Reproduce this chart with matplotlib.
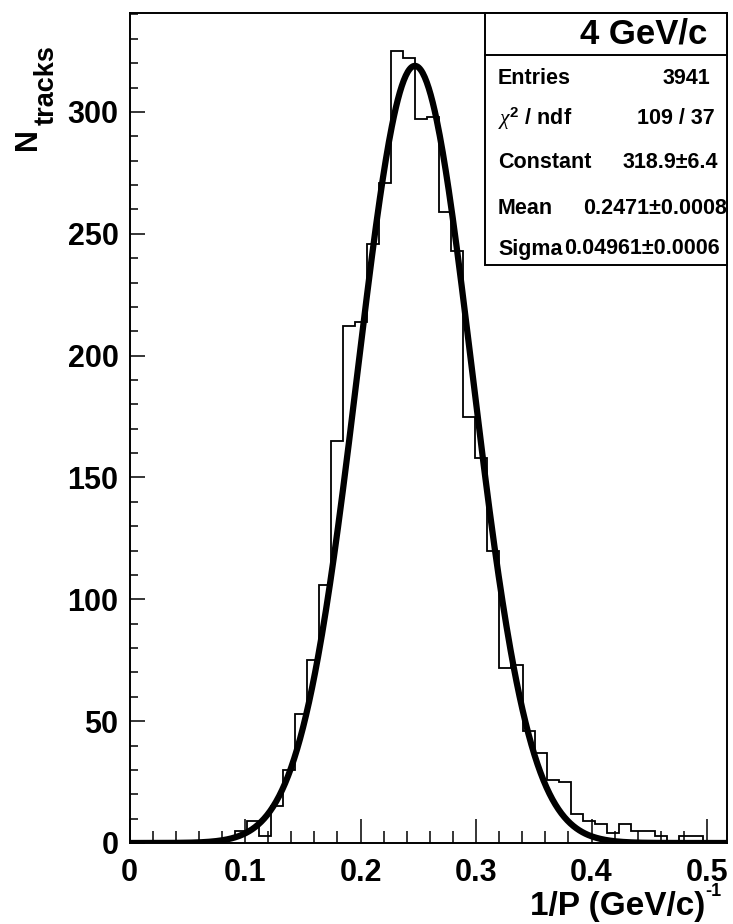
import numpy as np
import matplotlib
matplotlib.use("Agg")
import matplotlib.pyplot as plt
from matplotlib.patches import Rectangle
from matplotlib.lines import Line2D

plt.rcParams['font.family'] = ['Liberation Sans', 'DejaVu Sans']
plt.rcParams['mathtext.fontset'] = 'custom'
plt.rcParams['mathtext.rm'] = 'Liberation Sans:bold'
plt.rcParams['mathtext.bf'] = 'Liberation Sans:bold'
plt.rcParams['mathtext.it'] = 'Liberation Serif:italic'

# ---- data ----
bin_start = -0.0026
bin_width = 0.0104
counts = [0, 0, 0, 0, 0, 0, 0, 1, 2, 5,
          9, 3, 15, 30, 53, 75, 106, 165, 212, 214,
          246, 271, 325, 322, 297, 298, 259, 243, 175, 158,
          120, 72, 73, 46, 37, 26, 25, 12, 9, 8,
          4, 8, 5, 5, 3, 1, 3, 3, 0, 0]
fit_constant = 318.9
fit_mean = 0.2471
fit_sigma = 0.04961
x_ticks = [0, 0.1, 0.2, 0.3, 0.4, 0.5]
x_ticklabels = ['0', '0.1', '0.2', '0.3', '0.4', '0.5']
y_ticks = [0, 50, 100, 150, 200, 250, 300]
stats_title = '4 GeV/c'
stats_labels = ['Entries', r'$\chi^{2}$ / ndf', 'Constant', 'Mean', 'Sigma']
stats_values = ['3941', '109 / 37', '318.9\u00b16.4', '0.2471\u00b10.0008', '0.04961\u00b10.0006']

W, H = 733, 924
def fx(px):
    return px / W
def fy(py):
    return 1 - py / H

fig = plt.figure(figsize=(W / 100, H / 100), dpi=100)
ax_l, ax_r, ax_t, ax_b = 129.5, 727, 13, 843
ax = fig.add_axes([fx(ax_l), fy(ax_b), (ax_r - ax_l) / W, (ax_b - ax_t) / H])

edges = bin_start + bin_width * np.arange(len(counts) + 1)
ax.stairs(counts, edges, color='black', lw=1.3, zorder=2)

xmax = 0.5173
xf = np.linspace(0, xmax, 600)
yf = fit_constant * np.exp(-0.5 * ((xf - fit_mean) / fit_sigma) ** 2)
ax.plot(xf, yf, color='black', lw=4.5, zorder=3, solid_capstyle='butt')

ax.set_xlim(0, xmax)
ax.set_ylim(0, 340.6)
ax.set_xticks(x_ticks)
ax.set_xticklabels(x_ticklabels)
ax.set_yticks(y_ticks)
ax.set_xticks(np.arange(0, 0.52, 0.02), minor=True)
ax.set_yticks(np.arange(0, 341, 10), minor=True)
ax.tick_params(axis='x', which='major', direction='in', length=17, width=1.1,
               labelsize=22, pad=11)
ax.tick_params(axis='x', which='minor', direction='in', length=8.6, width=1.1)
ax.tick_params(axis='y', which='major', direction='in', length=10.8, width=1.1,
               labelsize=22, pad=8)
ax.tick_params(axis='y', which='minor', direction='in', length=5.4, width=1.1)
for lab in ax.get_xticklabels() + ax.get_yticklabels():
    lab.set_fontweight('bold')
for s in ax.spines.values():
    s.set_linewidth(1.4)

fig.text(fx(705), fy(906), '1/P (GeV/c)', ha='right', va='center',
         fontsize=24, fontweight='bold')
fig.text(fx(705), fy(892), '-1', ha='left', va='center', fontsize=13, fontweight='bold')
fig.text(fx(28), fy(150), 'N', rotation=90, ha='center', va='bottom',
         fontsize=22, fontweight='bold')
fig.text(fx(47), fy(125), 'tracks', rotation=90, ha='center', va='bottom',
         fontsize=19.5, fontweight='bold')

# ---- stats box ----
bx0, bx1, by0, by1, bsep = 485, 727, 13, 265, 55
fig.add_artist(Rectangle((fx(bx0), fy(by1)), (bx1 - bx0) / W, (by1 - by0) / H,
                         transform=fig.transFigure, facecolor='white',
                         edgecolor='black', lw=1.4, zorder=5))
fig.add_artist(Line2D([fx(bx0), fx(bx1)], [fy(bsep), fy(bsep)],
                      transform=fig.transFigure, color='black', lw=1.4, zorder=6))
fig.text(fx(707), fy(34), stats_title, ha='right', va='center', fontsize=25,
         fontweight='bold', zorder=7)
row_y = [78, 119, 163, 208, 249]
val_x = [710, 715, 718, 727, 720]
for lab, val, ry, vx in zip(stats_labels, stats_values, row_y, val_x):
    fig.text(fx(498), fy(ry), lab, ha='left', va='center', fontsize=15.5,
             fontweight='bold', zorder=7)
    fig.text(fx(vx), fy(ry), val, ha='right', va='center', fontsize=15.5,
             fontweight='bold', zorder=7)

fig.savefig('out.png', dpi=100)
